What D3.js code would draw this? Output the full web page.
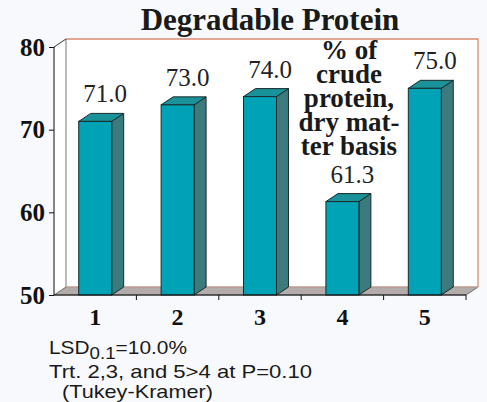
<!DOCTYPE html>
<html>
<head>
<meta charset="utf-8">
<script src="https://cdn.jsdelivr.net/npm/d3@7"></script>
<style>
  html, body { margin: 0; padding: 0; background: #f8f9fc; }
  svg { display: block; }
</style>
</head>
<body>
<div id="chart"></div>
<script>
// data
const treatments = ["1", "2", "3", "4", "5"];
const values = [71.0, 73.0, 74.0, 61.3, 75.0];
const yTicks = [50, 60, 70, 80];
const titleText = "Degradable Protein";
const unitLines = ["% of", "crude", "protein,", "dry mat-", "ter basis"];

const width = 487, height = 402;
// 3d depth offset of the chart box
const depth = { dx: 12, dy: -8 };

const svg = d3.select("#chart")
  .append("svg")
  .attr("width", width)
  .attr("height", height);

// scales
const x = d3.scaleBand()
  .domain(treatments)
  .range([54, 466]);

const y = d3.scaleLinear()
  .domain([50, 80])
  .range([295, 47]);

const x0 = x.range()[0], x1 = x.range()[1];
const yTop = y(80), yBot = y(50);

// back wall
svg.append("rect")
  .attr("x", x0 + depth.dx)
  .attr("y", yTop + depth.dy)
  .attr("width", x1 - x0)
  .attr("height", yBot - yTop)
  .style("fill", "#ffffff");

svg.append("path")
  .attr("d", `M${x0 + depth.dx},${yTop + depth.dy} H${x1 + depth.dx} V${yBot + depth.dy}`)
  .style("fill", "none")
  .style("stroke", "#d98a74")
  .style("stroke-width", 1.3);

// left wall
svg.append("path")
  .attr("d", `M${x0},${yTop} L${x0 + depth.dx},${yTop + depth.dy} V${yBot + depth.dy} L${x0},${yBot} Z`)
  .style("fill", "#ffffff")
  .style("stroke", "none");

svg.append("line")
  .attr("x1", x0 + depth.dx).attr("x2", x0 + depth.dx)
  .attr("y1", yTop + depth.dy).attr("y2", yBot + depth.dy)
  .style("stroke", "#777")
  .style("stroke-width", 1);

svg.append("line")
  .attr("x1", x0).attr("y1", yTop)
  .attr("x2", x0 + depth.dx).attr("y2", yTop + depth.dy)
  .style("stroke", "#333")
  .style("stroke-width", 1);

// floor
svg.append("path")
  .attr("d", `M${x0},${yBot} L${x0 + depth.dx},${yBot + depth.dy} H${x1 + depth.dx} L${x1},${yBot} Z`)
  .style("fill", "#b3acab")
  .style("stroke", "#555")
  .style("stroke-width", 0.8);

svg.append("line")
  .attr("x1", x0 + depth.dx).attr("x2", x1 + depth.dx)
  .attr("y1", yBot + depth.dy).attr("y2", yBot + depth.dy)
  .style("stroke", "#e2b3a6")
  .style("stroke-width", 1);

// bars
const barW = x.bandwidth() * 0.4;
const bars = svg.selectAll(".bar")
  .data(treatments.map((t, i) => ({ t: t, v: values[i] })))
  .enter()
  .append("g")
  .attr("class", "bar");

const bx = d => x(d.t) + x.bandwidth() / 2 - barW / 2;

// side face
bars.append("path")
  .attr("d", d => {
    const l = bx(d) + barW, t = y(d.v);
    return `M${l},${t} L${l + depth.dx},${t + depth.dy} V${yBot + depth.dy} L${l},${yBot} Z`;
  })
  .style("fill", "#3b7b7d")
  .style("stroke", "#1c2a2a")
  .style("stroke-width", 1);

// top face
bars.append("path")
  .attr("d", d => {
    const l = bx(d), t = y(d.v);
    return `M${l},${t} L${l + depth.dx},${t + depth.dy} H${l + barW + depth.dx} L${l + barW},${t} Z`;
  })
  .style("fill", "#1a9299")
  .style("stroke", "#1c2a2a")
  .style("stroke-width", 1);

// front face
bars.append("rect")
  .attr("x", bx)
  .attr("y", d => y(d.v))
  .attr("width", barW)
  .attr("height", d => yBot - y(d.v))
  .style("fill", "#00a3b6")
  .style("stroke", "#1c2a2a")
  .style("stroke-width", 1);

// value labels
bars.append("text")
  .attr("x", d => x(d.t) + x.bandwidth() / 2 + 10)
  .attr("y", d => y(d.v) + depth.dy - 11)
  .attr("text-anchor", "middle")
  .style("font-family", "'Liberation Serif', 'Times New Roman', serif")
  .style("font-size", "25px")
  .style("fill", "#222")
  .text(d => d.v.toFixed(1));

// y axis
const yAxis = svg.append("g")
  .attr("transform", `translate(${x0},0)`)
  .call(d3.axisLeft(y).tickValues(yTicks).tickSize(5).tickPadding(4).tickFormat(d3.format("d")));
yAxis.select(".domain").attr("d", `M0,${yTop} V${yBot}`).style("stroke", "#111");
yAxis.selectAll(".tick line").style("stroke", "#111");
yAxis.selectAll("text")
  .style("font-family", "'Liberation Serif', 'Times New Roman', serif")
  .style("font-weight", "bold")
  .style("font-size", "25px")
  .style("fill", "#111");

// x axis
const xAxis = svg.append("g")
  .attr("transform", `translate(0,${yBot})`)
  .call(d3.axisBottom(x).tickSize(0).tickPadding(13));
xAxis.select(".domain").remove();
xAxis.selectAll("text")
  .attr("dy", "0.71em")
  .style("font-family", "'Liberation Serif', 'Times New Roman', serif")
  .style("font-weight", "bold")
  .style("font-size", "24px")
  .style("fill", "#111");

// boundary ticks between categories
svg.append("g")
  .selectAll("line")
  .data(treatments)
  .enter()
  .append("line")
  .attr("x1", d => x(d) + x.bandwidth())
  .attr("x2", d => x(d) + x.bandwidth())
  .attr("y1", yBot)
  .attr("y2", yBot + 5)
  .style("stroke", "#111");

svg.append("line")
  .attr("x1", x0).attr("x2", x1)
  .attr("y1", yBot).attr("y2", yBot)
  .style("stroke", "#111");

// title
svg.append("text")
  .attr("x", 270)
  .attr("y", 30)
  .attr("text-anchor", "middle")
  .style("font-family", "'Liberation Serif', 'Times New Roman', serif")
  .style("font-weight", "bold")
  .style("font-size", "31px")
  .style("fill", "#1a1a1a")
  .text(titleText);

// unit note inside the plot
svg.append("text")
  .attr("text-anchor", "middle")
  .style("font-family", "'Liberation Serif', 'Times New Roman', serif")
  .style("font-weight", "bold")
  .style("font-size", "27px")
  .style("fill", "#1a1a1a")
  .selectAll("tspan")
  .data(unitLines)
  .enter()
  .append("tspan")
  .attr("x", 349)
  .attr("y", (d, i) => 59 + i * 24)
  .text(d => d);

// footnote
const foot = svg.append("g")
  .style("font-family", "'Liberation Sans', Arial, sans-serif")
  .style("font-size", "19px")
  .style("fill", "#1a1a1a");

const lsd = foot.append("text")
  .attr("x", 49)
  .attr("y", 354)
  .attr("textLength", 138)
  .attr("lengthAdjust", "spacingAndGlyphs");
lsd.append("tspan").text("LSD");
lsd.append("tspan").attr("dy", 5).style("font-size", "17px").text("0.1");
lsd.append("tspan").attr("dy", -5).text("=10.0%");

foot.append("text")
  .attr("x", 49)
  .attr("y", 378)
  .attr("textLength", 263)
  .attr("lengthAdjust", "spacingAndGlyphs")
  .text("Trt. 2,3, and 5>4 at P=0.10");

foot.append("text")
  .attr("x", 62)
  .attr("y", 398)
  .attr("textLength", 151)
  .attr("lengthAdjust", "spacingAndGlyphs")
  .text("(Tukey-Kramer)");
</script>
</body>
</html>
